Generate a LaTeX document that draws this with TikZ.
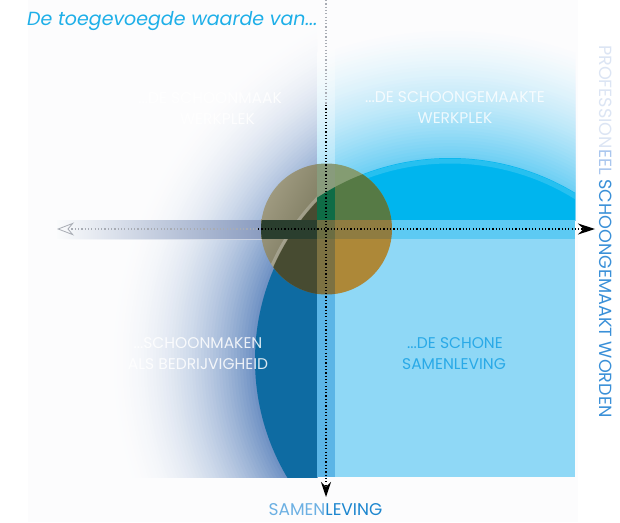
\documentclass[tikz,border=0pt]{standalone}
\usepackage{fontspec}
\setmainfont{Poppins}
\usetikzlibrary{arrows.meta,shadings}
\definecolor{bgfaint}{HTML}{FCFCFD}
\definecolor{glowL}{HTML}{6A8EC2}
\definecolor{discL}{HTML}{0E6BA2}
\definecolor{glowR}{HTML}{6DCFF4}
\definecolor{discR}{HTML}{00B5EE}
\definecolor{quadBR}{HTML}{8FD8F6}
\definecolor{stripeV}{HTML}{5BB5E6}
\definecolor{stripeH}{HTML}{5DCAF3}
\definecolor{stL}{HTML}{FAFBFC}
\definecolor{stM}{HTML}{F3F4F7}
\definecolor{stR}{HTML}{8A9CC0}
\definecolor{titleC}{HTML}{1EAFE8}
\definecolor{brText}{HTML}{29A9E7}
\definecolor{samenC}{HTML}{6CB0E3}
\definecolor{levingC}{HTML}{1C86CF}
\definecolor{profC}{HTML}{DCE5F4}
\definecolor{eelC}{HTML}{A9C6EE}
\definecolor{vertC}{HTML}{3A90D8}
\definecolor{olL}{HTML}{ADA78D}
\definecolor{olM}{HTML}{8E8B70}
\definecolor{olM2}{HTML}{86836A}
\definecolor{olD}{HTML}{6A684E}
\definecolor{olDk}{HTML}{474B31}
\definecolor{grL}{HTML}{849C72}
\definecolor{grM}{HTML}{567A45}
\definecolor{grDk}{HTML}{0F6C46}
\definecolor{goldC}{HTML}{AD8838}
\definecolor{stVtop}{HTML}{889B7C}
\definecolor{stVbot}{HTML}{7C7142}
\definecolor{stHl}{HTML}{2A3E2E}
\definecolor{stHr}{HTML}{8F7C41}
\definecolor{crossC}{HTML}{6B6D42}
\definecolor{dotgray}{HTML}{A8ACB4}
\tikzset{
  dotline/.style={line width=1.3pt, dash pattern=on 1.2pt off 2.1pt},
  qtext/.style={font=\fontsize{15.5}{18}\selectfont, inner sep=0pt, anchor=base},
}
\begin{document}
\begin{tikzpicture}[x=1pt,y=-1pt]
\useasboundingbox (0,0) rectangle (620,522);
\fill[white] (0,0) rectangle (620,522);
\fill[bgfaint] (28,0) rectangle (578,522);
% left glow and dark disc
\begin{scope}
  \clip (28,0) rectangle (317,477);
  \foreach \i in {0,...,50}{
    \pgfmathsetmacro\t{\i/50}
    \pgfmathsetmacro\p{100*\t*\t}
    \pgfmathsetmacro\r{380-3*\i}
    \fill[glowL!\p!bgfaint] (485,360) circle (\r);
  }
  \fill[discL] (485,360) circle (230);
\end{scope}
% right glow and cyan disc
\begin{scope}
  \clip (317,0) rectangle (575,220);
  \foreach \i in {0,...,40}{
    \pgfmathsetmacro\t{\i/40}
    \pgfmathsetmacro\p{100*\t*(0.4+0.6*\t)}
    \pgfmathsetmacro\r{372-3.2*\i}
    \fill[glowR!\p!bgfaint] (450,400) circle (\r);
  }
  \fill[discR] (450,400) circle (242);
  \draw[white, opacity=.15, line width=5pt] (450,400) circle (239);
\end{scope}
% quadrants and stripes
\fill[quadBR] (335,239) rectangle (575,477);
\fill[stripeH] (335,220) rectangle (575,239);
\fill[stripeV] (317,239) rectangle (335,477);
\fill[white, opacity=.3] (317,0) rectangle (335,220);
\shade[left color=stL, middle color=stM, right color=stR] (57,220) rectangle (262,239);
\draw[white, opacity=.5, line width=0.8pt] (57,239) -- (317,239);
% central circle
\begin{scope}
  \clip (326.5,229) circle (65.5);
  \shade[upper left=olL, upper right=olM, lower left=olM2, lower right=olD] (260,163) rectangle (317,295);
  \begin{scope}
    \clip (260,163) rectangle (317,295);
    \fill[olDk] (485,360) circle (231);
    \draw[white, opacity=.22, line width=3pt] (485,360) circle (233);
  \end{scope}
  \fill[grL] (335,163) rectangle (393,220);
  \fill[stVtop] (317,163) rectangle (335,220);
  \begin{scope}
    \clip (450,400) circle (242);
    \fill[grM] (335,163) rectangle (393,220);
    \fill[grDk] (317,163) rectangle (335,220);
  \end{scope}
  \fill[goldC] (335,239) rectangle (393,295);
  \fill[stVbot] (317,239) rectangle (335,295);
  \fill[stHl] (260,220) rectangle (317,239);
  \fill[stHr] (335,220) rectangle (393,239);
  \fill[crossC] (317,220) rectangle (335,239);
\end{scope}
% axes
\coordinate (vtop) at (326,0);
\coordinate (vmid) at (326,105);
\coordinate (vbot) at (326,497);
\coordinate (hleft) at (57,229);
\coordinate (hmid) at (258,229);
\coordinate (hright) at (595,229);
\draw[dotline, dotgray] (vtop) -- (vmid);
\draw[dotline, black, -{Stealth[length=15pt, width=10pt]}] (vmid) -- (vbot);
\draw[dotline, dotgray, {Stealth[open, length=17pt, width=13pt, line width=0.8pt]}-] (hleft) -- (hmid);
\draw[dotline, black, -{Stealth[length=17pt, width=11pt]}] (hmid) -- (hright);
% texts
\node[titleC, font=\fontsize{19}{22}\selectfont\itshape, inner sep=0pt, anchor=base west] (title) at (27,25) {De toegevoegde waarde van...};
\node[qtext, white, opacity=.85, anchor=base east] (tl1) at (282,103) {...DE SCHOONMAAK};
\node[qtext, white, opacity=.85, anchor=base east] (tl2) at (255,124) {WERKPLEK};
\node[qtext, white, opacity=.8] (tr1) at (455,102) {...DE SCHOONGEMAAKTE};
\node[qtext, white, opacity=.8] (tr2) at (455,123) {WERKPLEK};
\node[qtext, white, opacity=.85] (bl1) at (198,348) {...SCHOONMAKEN};
\node[qtext, white, opacity=.85] (bl2) at (198,369) {ALS BEDRIJVIGHEID};
\node[qtext, brText] (br1) at (455,348) {...DE SCHONE};
\node[qtext, brText] (br2) at (454,369) {SAMENLEVING};
\node[qtext, font=\fontsize{17}{20}\selectfont] (axisB) at (325.5,515) {\textcolor{samenC}{SAMEN}\textcolor{levingC}{LEVING}};
\node[font=\fontsize{17.6}{20}\selectfont, inner sep=0pt, rotate=-90, anchor=base west] (axisR) at (599,45) {\textcolor{profC}{PROFESSION}\textcolor{eelC}{EEL} \textcolor{vertC}{SCHOONGEMAAKT WORDEN}};
\end{tikzpicture}
\end{document}
